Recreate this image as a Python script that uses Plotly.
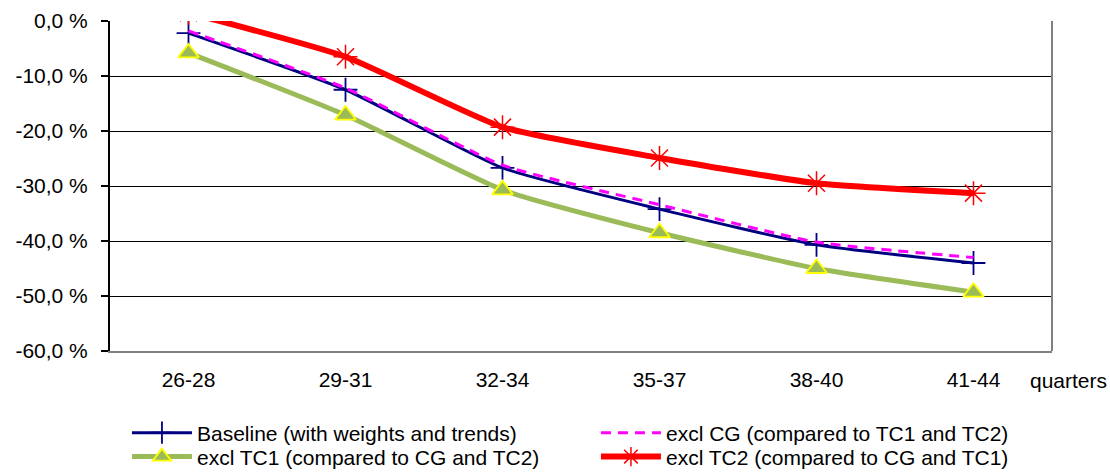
import plotly.graph_objects as go

categories = ["26-28", "29-31", "32-34", "35-37", "38-40", "41-44"]
baseline = [-2.2, -12.5, -26.7, -34.2, -40.7, -44.0]
excl_cg = [-1.8, -12.2, -26.2, -33.4, -40.2, -43.0]
excl_tc1 = [-5.8, -17.1, -30.7, -38.5, -45.0, -49.3]
excl_tc2 = [1.5, -6.5, -19.3, -24.9, -29.5, -31.3]
y_tick_values = [0, -10, -20, -30, -40, -50, -60]
y_tick_labels = ["0,0 %", "-10,0 %", "-20,0 %", "-30,0 %", "-40,0 %", "-50,0 %", "-60,0 %"]
x_axis_title = "quarters"

xpos = list(range(len(categories)))
boundaries = [i + 0.5 for i in range(len(categories))]

FONT = "Liberation Sans, Arial, sans-serif"

fig = go.Figure()
fig.add_trace(go.Scatter(
    x=xpos, y=baseline, name="Baseline (with weights and trends)", mode="lines+markers",
    line=dict(color="#000080", width=3, shape="spline", smoothing=0.5),
    marker=dict(symbol="cross-thin", size=17, line=dict(color="#000080", width=1.8)),
    legend="legend",
))
fig.add_trace(go.Scatter(
    x=xpos, y=excl_cg, name="excl CG (compared to TC1 and TC2)", mode="lines",
    line=dict(color="#FF00FF", width=3, dash="10px,7px", shape="spline", smoothing=0.5),
    legend="legend",
))
fig.add_trace(go.Scatter(
    x=xpos, y=excl_tc1, name="excl TC1 (compared to CG and TC2)", mode="lines+markers",
    line=dict(color="#9BBB59", width=5, shape="spline", smoothing=0.5),
    marker=dict(symbol="triangle-up", size=18, color="#9BBB59", line=dict(color="#FFFF00", width=1.8)),
    legend="legend2",
))
fig.add_trace(go.Scatter(
    x=xpos, y=excl_tc2, name="excl TC2 (compared to CG and TC1)", mode="lines+markers",
    line=dict(color="#FF0000", width=6, shape="spline", smoothing=0.5),
    marker=dict(symbol="asterisk-open", size=20, color="#FF0000", line=dict(color="#FF0000", width=1.5)),
    legend="legend2",
))

legend_common = dict(
    orientation="h", x=0.018, xanchor="left", yanchor="middle",
    entrywidth=394, entrywidthmode="pixels",
    font=dict(family=FONT, size=21, color="black"),
    itemwidth=60, tracegroupgap=0, bgcolor="rgba(0,0,0,0)",
)

fig.update_layout(
    width=1110, height=472,
    margin=dict(l=110, r=58, t=21, b=121, autoexpand=False),
    paper_bgcolor="white", plot_bgcolor="white",
    font=dict(family=FONT, size=21, color="black"),
    showlegend=True,
    legend=dict(y=-0.2485, **legend_common),
    legend2=dict(y=-0.321, **legend_common),
    xaxis=dict(
        range=[-0.5, len(categories) - 0.5],
        tickvals=xpos, ticktext=categories, ticks="",
        showgrid=False, zeroline=False,
        showline=True, linecolor="#808080", linewidth=2,
        ticklabelstandoff=9,
        tickfont=dict(family=FONT, size=21),
    ),
    xaxis2=dict(
        overlaying="x", side="top", anchor="y",
        range=[-0.5, len(categories) - 0.5],
        tickvals=boundaries, ticks="inside", ticklen=6, tickwidth=1.5, tickcolor="black",
        showticklabels=False, showgrid=False, zeroline=False,
        showline=True, linecolor="black", linewidth=2,
    ),
    yaxis=dict(
        range=[-60, 0], tickvals=y_tick_values, ticktext=y_tick_labels,
        ticks="outside", ticklen=7, tickwidth=1.5, tickcolor="black",
        showgrid=True, gridcolor="black", gridwidth=1,
        zeroline=False, showline=True, linecolor="black", linewidth=2,
        ticklabelstandoff=9,
        tickfont=dict(family=FONT, size=21),
    ),
)

fig.add_shape(type="line", xref="x domain", yref="y domain", x0=1, x1=1, y0=0, y1=1,
              line=dict(color="#808080", width=2))

fig.add_annotation(text=x_axis_title, xref="x domain", yref="y domain", x=0.9745, y=-0.088,
                   xanchor="left", yanchor="middle", showarrow=False,
                   font=dict(family=FONT, size=21, color="black"))

fig.write_html("out.html")
